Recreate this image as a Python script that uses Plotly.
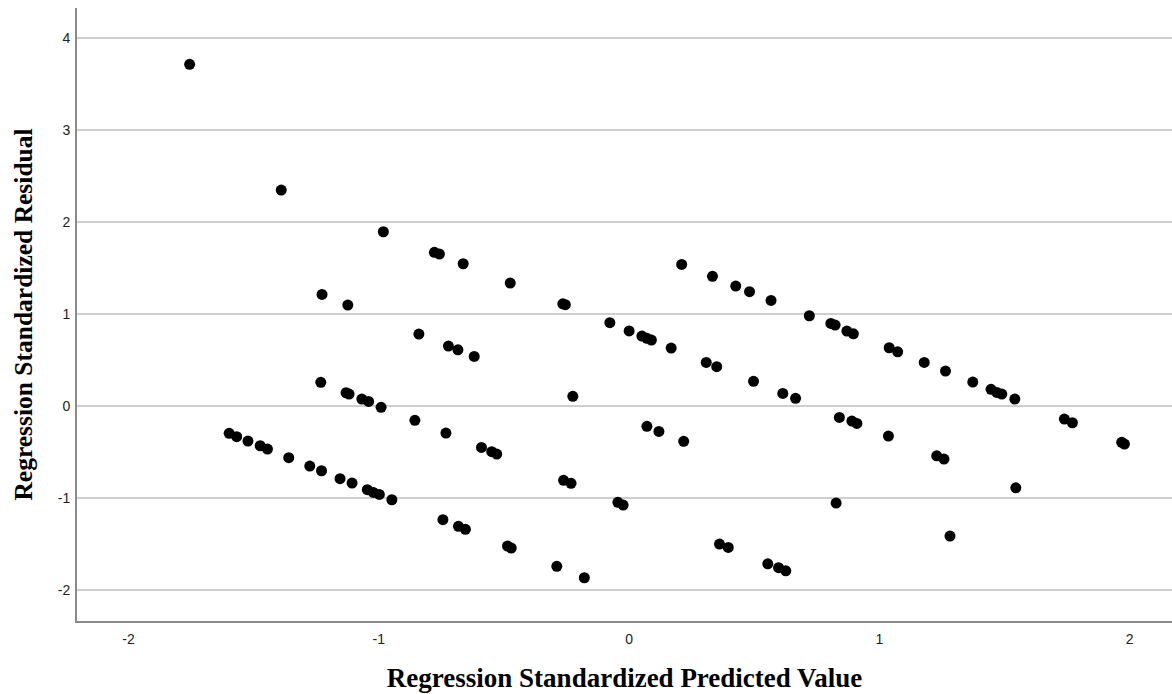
import plotly.graph_objects as go

# Regression Standardized Predicted Value (x) vs Regression Standardized Residual (y)
pred = [
    -1.756, -1.390, -0.982, -0.778, -0.758, -1.227, -1.124,
    -0.663, -0.475, -0.265, -0.255, -0.077, 0.000,
    0.210, 0.333, 0.426, 0.481, 0.567, 0.720, 0.806, 0.823,
    0.051, 0.071, 0.089, 0.168, 0.308, 0.350, 0.497, 0.614, 0.665,
    -0.722, -0.684, -0.619, -0.225, -0.840,
    -0.732, -0.590, -0.549, -0.529, -0.262, -0.232,
    0.071, 0.119, 0.218, -0.045, -0.024, 0.827,
    -0.744, -0.682, -0.654, -0.486, -0.471, -0.289, -0.179,
    0.361, 0.396, 0.554, 0.597, 0.626, 0.840,
    -1.232, -1.131, -1.119, -1.068, -1.041, -0.991, -0.856,
    -1.598, -1.568, -1.523, -1.474, -1.445, -1.360, -1.276, -1.229,
    -1.155, -1.107, -1.046, -1.022, -0.998, -0.948,
    0.870, 0.896, 1.039, 1.073, 1.179, 1.264, 1.373,
    1.446, 1.469, 1.489, 1.541,
    0.890, 0.910, 1.036, 1.229, 1.258, 1.739, 1.771, 1.968, 1.979,
    1.545, 1.282,
]
resid = [
    3.718, 2.351, 1.898, 1.674, 1.655, 1.217, 1.101,
    1.550, 1.340, 1.115, 1.105, 0.909, 0.820,
    1.543, 1.413, 1.308, 1.246, 1.152, 0.985, 0.902, 0.884,
    0.764, 0.739, 0.721, 0.634, 0.478, 0.431, 0.272, 0.141, 0.087,
    0.655, 0.615, 0.543, 0.109, 0.786,
    -0.290, -0.446, -0.493, -0.518, -0.804, -0.837,
    -0.217, -0.272, -0.380, -1.043, -1.073, -1.051,
    -1.232, -1.304, -1.337, -1.518, -1.540, -1.739, -1.863,
    -1.497, -1.533, -1.711, -1.754, -1.787, -0.120,
    0.261, 0.148, 0.134, 0.079, 0.054, -0.011, -0.152,
    -0.293, -0.330, -0.377, -0.428, -0.464, -0.558, -0.649, -0.700,
    -0.786, -0.834, -0.906, -0.935, -0.957, -1.015,
    0.818, 0.789, 0.637, 0.593, 0.478, 0.384, 0.264,
    0.185, 0.152, 0.134, 0.079,
    -0.160, -0.185, -0.323, -0.537, -0.573, -0.138, -0.178, -0.391, -0.410,
    -0.885, -1.410,
]

x_ticks = [-2, -1, 0, 1, 2]
y_ticks = [-2, -1, 0, 1, 2, 3, 4]

fig = go.Figure()
fig.add_trace(go.Scatter(
    x=pred, y=resid, mode="markers",
    marker=dict(color="black", size=11, line=dict(width=0)),
    showlegend=False, hoverinfo="x+y",
))

tick_font = dict(family="Liberation Sans", size=14, color="#222222")

fig.update_layout(
    width=1172, height=694,
    margin=dict(l=77, r=0, t=8, b=73),
    paper_bgcolor="white", plot_bgcolor="white",
    xaxis=dict(
        range=[-2.206, 2.169], tickvals=x_ticks,
        ticktext=[str(v) for v in x_ticks],
        showgrid=False, zeroline=False,
        showline=True, linecolor="#8a8a8a", linewidth=2,
        ticks="", tickfont=tick_font, ticklabelstandoff=4,
        automargin=False,
        title=dict(text="<b>Regression Standardized Predicted Value</b>",
                   font=dict(family="Liberation Serif", size=27, color="black"),
                   standoff=22),
    ),
    yaxis=dict(
        range=[-2.333, 4.33], tickvals=y_ticks,
        ticktext=[str(v) for v in y_ticks],
        showgrid=True, gridcolor="#cfcfcf", gridwidth=2,
        zeroline=False,
        showline=True, linecolor="#8a8a8a", linewidth=2,
        ticks="", tickfont=tick_font, ticklabelstandoff=2,
        automargin=False,
        title=dict(text="<b>Regression Standardized Residual</b>",
                   font=dict(family="Liberation Serif", size=25.5, color="black"),
                   standoff=18),
    ),
)

fig.write_html("out.html", config={"displayModeBar": False},
               post_script="document.body.style.margin='0';")
